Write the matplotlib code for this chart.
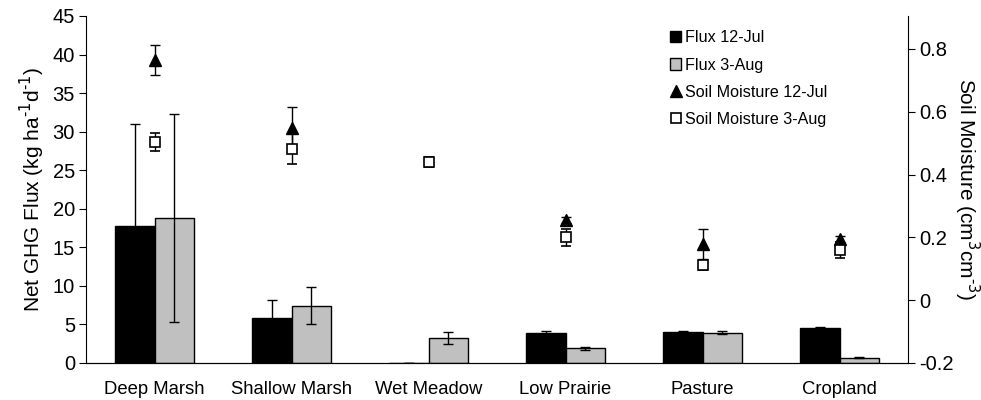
import numpy as np
import matplotlib.pyplot as plt
from matplotlib.lines import Line2D
from matplotlib.patches import Patch

plt.rcParams['font.family'] = ['Liberation Sans', 'DejaVu Sans']
plt.rcParams['axes.unicode_minus'] = False

# Данные
sites = ['Deep Marsh', 'Shallow Marsh', 'Wet Meadow', 'Low Prairie', 'Pasture', 'Cropland']
flux_jul = [17.8, 5.8, 0.0, 3.9, 4.0, 4.6]
flux_jul_err = [13.2, 2.4, 0.0, 0.2, 0.1, 0.1]
flux_aug = [18.8, 7.4, 3.2, 1.9, 3.9, 0.7]
flux_aug_err = [13.5, 2.4, 0.8, 0.15, 0.2, 0.1]
soil_jul = [0.765, 0.548, np.nan, 0.255, 0.179, 0.195]
soil_jul_err = [0.048, 0.067, 0.0, 0.01, 0.048, 0.01]
soil_aug = [0.504, 0.481, 0.44, 0.201, 0.112, 0.16]
soil_aug_err = [0.03, 0.047, 0.015, 0.027, 0.015, 0.025]

x = np.arange(len(sites))
w = 0.29
gray = '#c0c0c0'

fig = plt.figure(figsize=(9.81, 4.0), dpi=100)
ax = fig.add_axes([0.0877, 0.0925, 0.8379, 0.8675])

# Столбцы
ax.bar(x - w / 2, flux_jul, w, color='black', edgecolor='black', linewidth=1)
ax.bar(x + w / 2, flux_aug, w, color=gray, edgecolor='black', linewidth=1)
ax.errorbar(x - w / 2, flux_jul, yerr=flux_jul_err, fmt='none', ecolor='black',
            elinewidth=1, capsize=3.5, capthick=1)
ax.errorbar(x + w / 2, flux_aug, yerr=flux_aug_err, fmt='none', ecolor='black',
            elinewidth=1, capsize=3.5, capthick=1)

ax.set_xlim(-0.5, len(sites) - 0.5)
ax.set_ylim(0, 45)
ax.set_yticks(range(0, 46, 5))
ax.set_xticks(x)
ax.set_xticklabels(sites, fontsize=13.3)
ax.tick_params(axis='x', length=0, pad=13)
ax.tick_params(axis='y', labelsize=14.5, direction='out', length=5, pad=3)
ax.set_ylabel(r'Net GHG Flux (kg ha$^{\text{-1}}$d$^{\text{-1}}$)', fontsize=15,
              labelpad=4)
ax.spines['top'].set_visible(False)
ax.spines['right'].set_visible(False)

# Влажность почвы на правой оси
ax2 = ax.twinx()
ax2.errorbar(x, soil_jul, yerr=soil_jul_err, fmt='^', color='black', markersize=8.5,
             ecolor='black', elinewidth=1, capsize=3.5, capthick=1)
ax2.errorbar(x, soil_aug, yerr=soil_aug_err, fmt='s', color='black', mfc='white',
             mec='black', markersize=7.5, mew=1.2, ecolor='black', elinewidth=1,
             capsize=3.5, capthick=1)
ax2.set_ylim(-0.2, 0.905)
ax2.set_yticks([-0.2, 0, 0.2, 0.4, 0.6, 0.8])
ax2.set_yticklabels(['-0.2', '0', '0.2', '0.4', '0.6', '0.8'])
ax2.tick_params(axis='y', labelsize=14.5, direction='out', length=5, pad=3)
ax2.set_ylabel(r'Soil Moisture (cm$^{\text{3}}$cm$^{\text{-3}}$)', fontsize=15,
               rotation=270, labelpad=20)
ax2.spines['top'].set_visible(False)
ax2.spines['left'].set_visible(False)

handles = [
    Patch(facecolor='black', edgecolor='black'),
    Patch(facecolor=gray, edgecolor='black'),
    Line2D([], [], marker='^', color='black', linestyle='none', markersize=9),
    Line2D([], [], marker='s', color='black', mfc='white', linestyle='none',
           markersize=7, mew=1.2),
]
labels = ['Flux 12-Jul', 'Flux 3-Aug', 'Soil Moisture 12-Jul', 'Soil Moisture 3-Aug']
ax2.legend(handles, labels, loc='upper left', bbox_to_anchor=(0.693, 1.0),
           frameon=False, fontsize=11.6, handlelength=0.7, handleheight=0.7,
           handletextpad=0.2, labelspacing=0.75)

plt.savefig('out.png', dpi=100)
